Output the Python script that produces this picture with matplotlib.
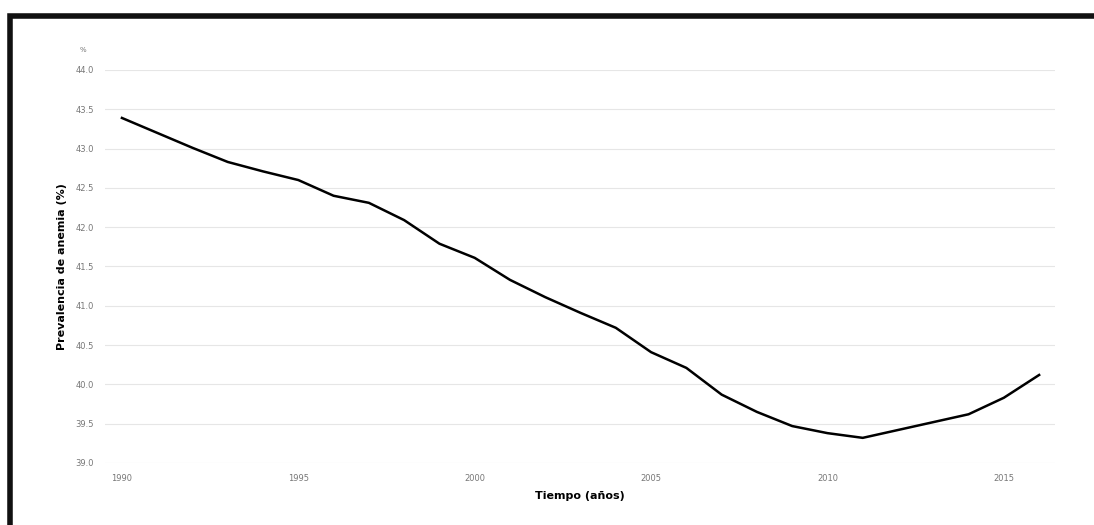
import matplotlib
matplotlib.use("Agg")
import matplotlib.pyplot as plt
from matplotlib.patches import Rectangle

years = list(range(1990, 2017))
prevalencia = [43.39, 43.20, 43.01, 42.83, 42.71, 42.60, 42.40, 42.31, 42.09, 41.79,
               41.61, 41.33, 41.11, 40.91, 40.72, 40.41, 40.21, 39.87, 39.65, 39.47,
               39.38, 39.32, 39.42, 39.52, 39.62, 39.83, 40.12]
x_ticks = [1990, 1995, 2000, 2005, 2010, 2015]
y_ticks = [39.0, 39.5, 40.0, 40.5, 41.0, 41.5, 42.0, 42.5, 43.0, 43.5, 44.0]

W, H = 1094, 525
fig = plt.figure(figsize=(W / 100, H / 100), dpi=100)
fig.patch.set_facecolor("white")

# marco negro grueso alrededor del grafico
fig.patches.append(Rectangle((10 / W, -0.1), 1.2, (H - 16) / H + 0.1,
                             transform=fig.transFigure, fill=False,
                             edgecolor="#111111", linewidth=4))

ax = fig.add_axes([105 / W, 62 / H, 950 / W, 393 / H])
ax.plot(years, prevalencia, color="black", linewidth=1.8)

ax.set_xlim(1989.52, 2016.45)
ax.set_ylim(39.0, 44.0)
ax.set_xticks(x_ticks)
ax.set_yticks(y_ticks)
ax.set_yticklabels([f"{v:.1f}" for v in y_ticks])
ax.tick_params(length=0, labelsize=6, colors="#777777", pad=8)
ax.grid(axis="y", color="#e6e6e6", linewidth=0.8)
ax.grid(axis="x", visible=False)
for s in ax.spines.values():
    s.set_visible(False)

ax.set_xlabel("Tiempo (años)", fontsize=8, fontweight="bold", labelpad=6)
ax.set_ylabel("Prevalencia de anemia (%)", fontsize=8, fontweight="bold", labelpad=6)
fig.text(83 / W, 1 - 52 / H, "%", fontsize=5, color="#777777", ha="center")

fig.savefig("out.png", dpi=100)
